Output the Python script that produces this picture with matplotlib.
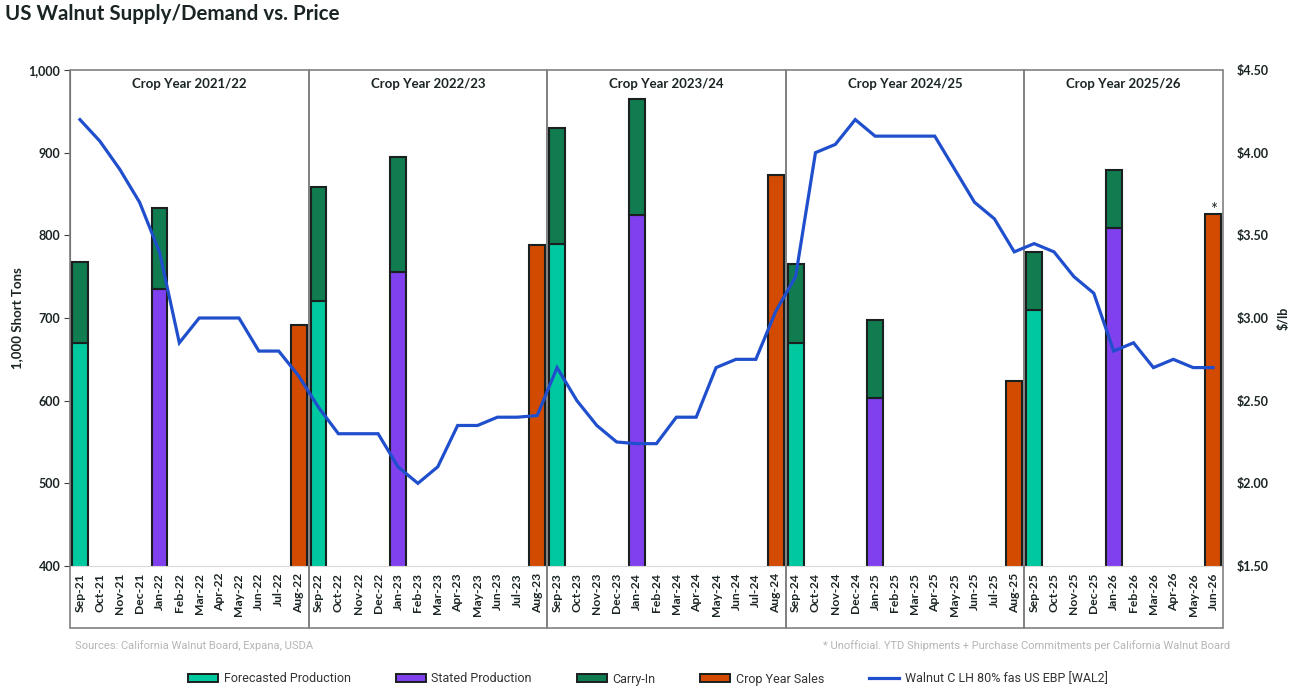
import numpy as np
import matplotlib
matplotlib.use("Agg")
from matplotlib import pyplot as plt
from matplotlib.patches import Rectangle, Patch
from matplotlib.lines import Line2D
import matplotlib.transforms as mtransforms

plt.rcParams['font.family'] = ['Lato', 'DejaVu Sans']

months = [
    "Sep-21", "Oct-21", "Nov-21", "Dec-21", "Jan-22", "Feb-22", "Mar-22", "Apr-22", "May-22", "Jun-22", "Jul-22", "Aug-22",
    "Sep-22", "Oct-22", "Nov-22", "Dec-22", "Jan-23", "Feb-23", "Mar-23", "Apr-23", "May-23", "Jun-23", "Jul-23", "Aug-23",
    "Sep-23", "Oct-23", "Nov-23", "Dec-23", "Jan-24", "Feb-24", "Mar-24", "Apr-24", "May-24", "Jun-24", "Jul-24", "Aug-24",
    "Sep-24", "Oct-24", "Nov-24", "Dec-24", "Jan-25", "Feb-25", "Mar-25", "Apr-25", "May-25", "Jun-25", "Jul-25", "Aug-25",
    "Sep-25", "Oct-25", "Nov-25", "Dec-25", "Jan-26", "Feb-26", "Mar-26", "Apr-26", "May-26", "Jun-26",
]

# $/lb, right axis
price = [
    4.20, 4.07, 3.90, 3.70, 3.40, 2.85, 3.00, 3.00, 3.00, 2.80, 2.80, 2.65,
    2.46, 2.30, 2.30, 2.30, 2.10, 2.00, 2.10, 2.35, 2.35, 2.40, 2.40, 2.41,
    2.70, 2.50, 2.35, 2.25, 2.24, 2.24, 2.40, 2.40, 2.70, 2.75, 2.75, 3.04,
    3.25, 4.00, 4.05, 4.20, 4.10, 4.10, 4.10, 4.10, 3.90, 3.70, 3.60, 3.40,
    3.45, 3.40, 3.25, 3.15, 2.80, 2.85, 2.70, 2.75, 2.70, 2.70,
]

forecast_months = ["Sep-21", "Sep-22", "Sep-23", "Sep-24", "Sep-25"]
forecast_prod = [670, 720, 790, 670, 710]
forecast_carry = [98, 138, 140, 95, 70]

stated_months = ["Jan-22", "Jan-23", "Jan-24", "Jan-25", "Jan-26"]
stated_prod = [735, 756, 825, 603, 809]
stated_carry = [98, 139, 140, 94, 70]

sales_months = ["Aug-22", "Aug-23", "Aug-24", "Aug-25", "Jun-26"]
sales = [691, 788, 873, 624, 826]

crop_years = ["Crop Year 2021/22", "Crop Year 2022/23", "Crop Year 2023/24",
              "Crop Year 2024/25", "Crop Year 2025/26"]
crop_start = ["Sep-21", "Sep-22", "Sep-23", "Sep-24", "Sep-25"]

teal = "#00C9A0"
purple = "#8040EE"
green = "#107C50"
orange = "#D24B00"
blue = "#1F4FCC"
edge = "#1a1f1f"
txt = "#1b2424"

fig = plt.figure(figsize=(12.96, 6.97), dpi=100)
ax = fig.add_axes([70 / 1296, 1 - 566 / 697, (1223 - 70) / 1296, 496 / 697])
ax2 = ax.twinx()

idx = {m: i for i, m in enumerate(months)}
x = np.arange(len(months))

bw = 0.8
fx = [idx[m] for m in forecast_months]
sx = [idx[m] for m in stated_months]
ox = [idx[m] for m in sales_months]
ax.bar(fx, forecast_prod, width=bw, color=teal, edgecolor=edge, linewidth=1.5)
ax.bar(fx, forecast_carry, bottom=forecast_prod, width=bw, color=green, edgecolor=edge, linewidth=1.5)
ax.bar(sx, stated_prod, width=bw, color=purple, edgecolor=edge, linewidth=1.5)
ax.bar(sx, stated_carry, bottom=stated_prod, width=bw, color=green, edgecolor=edge, linewidth=1.5)
ax.bar(ox, sales, width=bw, color=orange, edgecolor=edge, linewidth=1.5)
ax.text(ox[-1], sales[-1] - 2, "*", ha="center", va="baseline", fontsize=12, color=txt)

ax2.plot(x, price, color=blue, lw=2.3, solid_joinstyle="miter")

ax.set_xlim(-0.5, len(months) - 0.5)
ax.set_ylim(400, 1000)
ax2.set_ylim(1.5, 4.5)

yt = list(range(400, 1001, 100))
ax.set_yticks(yt)
ax.set_yticklabels([f"{v:,}" for v in yt], fontweight="bold", fontsize=9, color=txt)
pt = [1.5, 2.0, 2.5, 3.0, 3.5, 4.0, 4.5]
ax2.set_yticks(pt)
ax2.set_yticklabels([f"${v:.2f}" for v in pt], fontweight="bold", fontsize=9, color=txt)
ax.set_xticks(x)
ax.set_xticklabels(months, rotation=90, fontweight="bold", fontsize=8.7, color=txt)

ax.tick_params(axis="x", length=0, pad=5)
ax.tick_params(axis="y", length=4, width=0.8, color="#404040", pad=3)
ax2.tick_params(axis="y", length=0, pad=10)

for s in ["top", "right"]:
    ax.spines[s].set_visible(False)
for s in ax2.spines.values():
    s.set_visible(False)
ax.spines["left"].set_color("#404040")
ax.spines["bottom"].set_color("#d9d9d9")

ax.set_ylabel("1,000 Short Tons", fontweight="bold", fontsize=9.5, color=txt)
ax.yaxis.set_label_coords(-0.041, 0.5)
ax2.set_ylabel("$/lb", fontweight="bold", fontsize=9, color=txt)
ax2.yaxis.set_label_coords(1.0477, 0.5)

trans = mtransforms.blended_transform_factory(ax.transData, ax.transAxes)
for lab, start in zip(crop_years, crop_start):
    x0 = idx[start] - 0.5
    x1 = min(x0 + 12, len(months) - 0.5)
    ax.add_patch(Rectangle((x0, -0.125), x1 - x0, 1.125, transform=trans, fill=False,
                           edgecolor="#808080", linewidth=1.2, clip_on=False, zorder=3))
    ax.text((x0 + x1) / 2, 0.972, lab, transform=trans, ha="center", va="center",
            fontweight="bold", fontsize=9.5, color=txt)

fig.text(5 / 1296, 1 - 14 / 697, "US Walnut Supply/Demand vs. Price", ha="left", va="center",
         fontsize=14.8, fontweight="bold", color=txt)
fig.text(75 / 1296, 1 - 646 / 697, "Sources: California Walnut Board, Expana, USDA",
         ha="left", va="center", fontsize=8, color="#b5b5b5", family=["Roboto", "DejaVu Sans"])
fig.text(1230 / 1296, 1 - 646 / 697,
         "* Unofficial. YTD Shipments + Purchase Commitments per California Walnut Board",
         ha="right", va="center", fontsize=8, color="#b5b5b5", family=["Roboto", "DejaVu Sans"])

handles = [
    Patch(facecolor=teal, edgecolor=edge, linewidth=1.4),
    Patch(facecolor=purple, edgecolor=edge, linewidth=1.4),
    Patch(facecolor=green, edgecolor=edge, linewidth=1.4),
    Patch(facecolor=orange, edgecolor=edge, linewidth=1.4),
    Line2D([], [], color=blue, lw=2.3),
]
labels = ["Forecasted Production", "Stated Production", "Carry-In", "Crop Year Sales",
          "Walnut C LH 80% fas US EBP [WAL2]"]
fig.legend(handles, labels, loc="center", bbox_to_anchor=(0.5, 1 - 679 / 697), ncol=5,
           frameon=False, handlelength=2.4, handleheight=0.55, handletextpad=0.45,
           columnspacing=3.6,
           prop={"family": ["Roboto", "DejaVu Sans"], "size": 9}, labelcolor="#333333")

fig.savefig("out.png", dpi=100)
